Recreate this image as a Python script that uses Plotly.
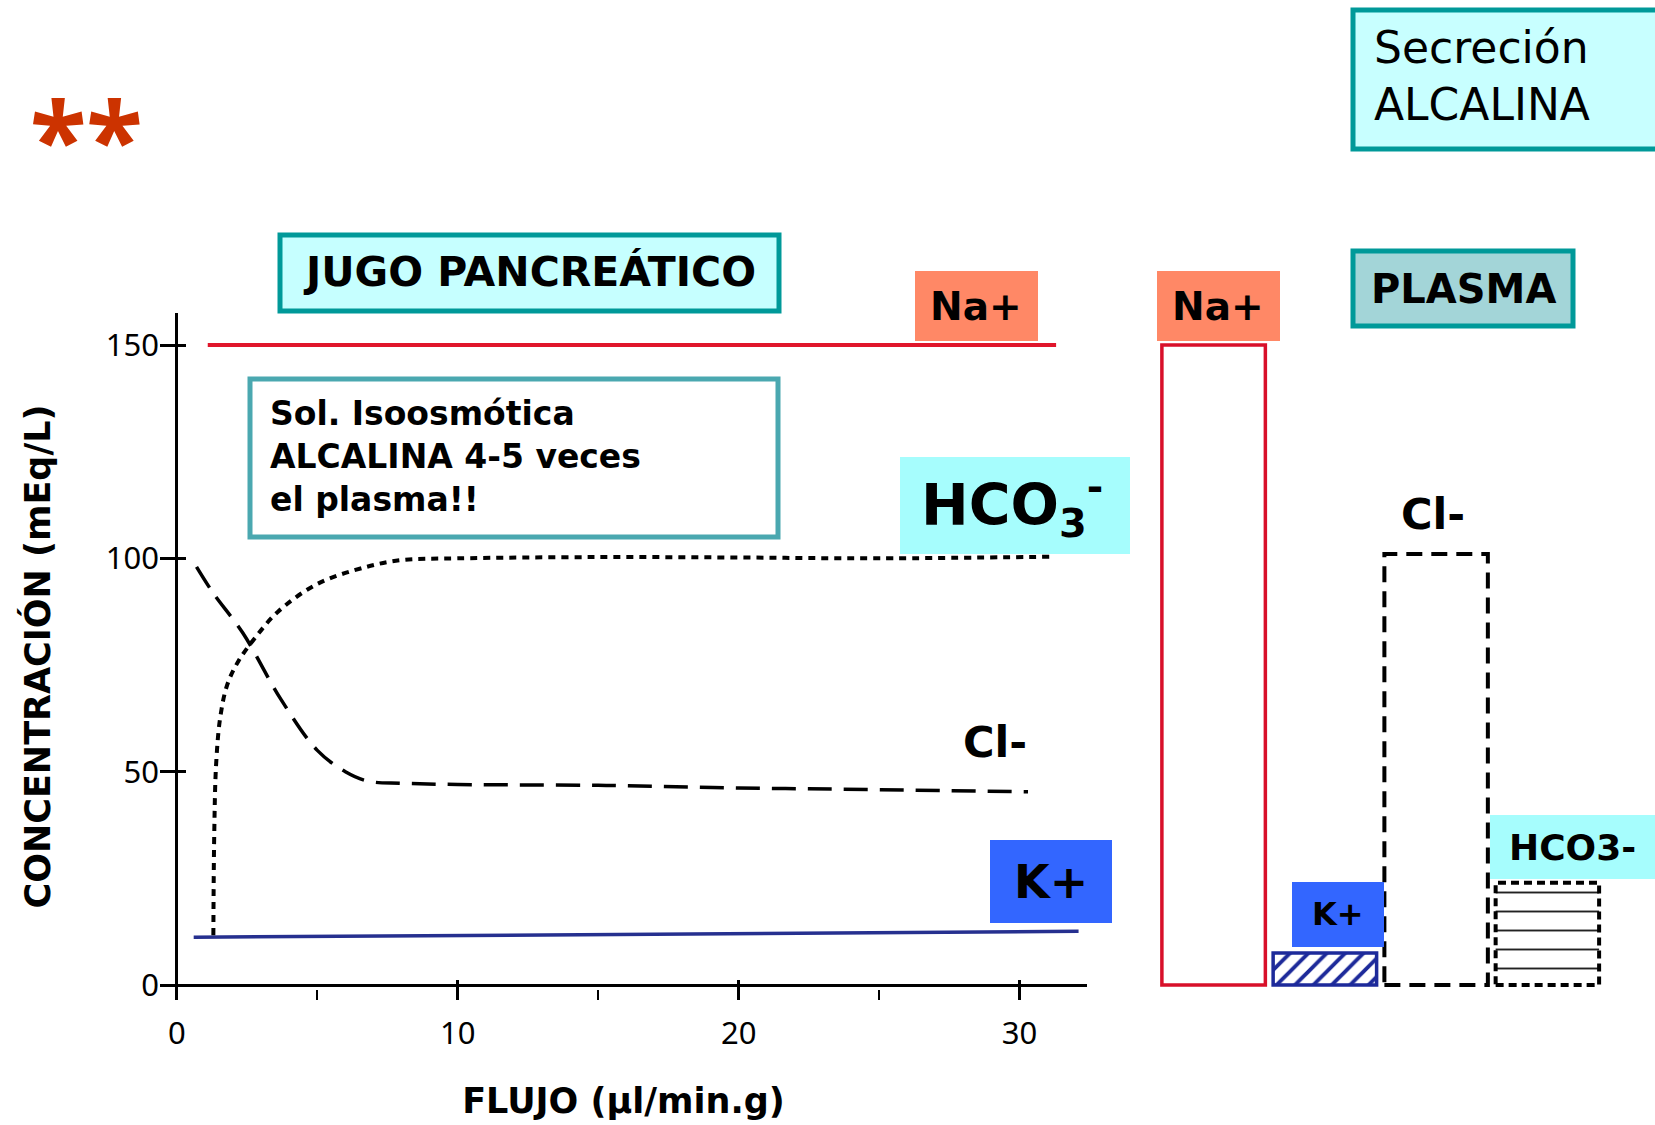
import plotly.graph_objects as go

W, H = 1655, 1125

# ---------------- data ----------------
# Pancreatic juice: concentration (mEq/L) vs flow (µl/min.g)
flow_na = [1.1, 31.3]
na_juice = [150, 150]

flow_k = [0.6, 32.1]
k_juice = [11.2, 12.6]

flow_hco3 = [1.3, 1.33, 1.4, 1.55, 1.8, 2.2, 2.8, 3.6, 5.0, 6.75, 8.0, 10, 15, 20, 25, 31.2]
hco3_juice = [11.7, 35, 52, 63, 70.5, 76, 81.5, 87.5, 94, 98, 99.6, 100, 100.3, 100.2, 100, 100.4]

flow_cl = [0.7, 1.3, 2.35, 3.7, 5.0, 6.0, 6.8, 8, 10, 15, 20, 25, 30.3]
cl_juice = [98, 91.8, 82.5, 67, 55, 50, 47.8, 47.3, 47, 46.8, 46.2, 45.8, 45.3]

# Plasma
plasma_ions = ["Na+", "K+", "Cl-", "HCO3-"]
plasma_values = [150, 7.5, 101, 24]

x_ticks = [0, 10, 20, 30]
x_minor = [5, 15, 25]
y_ticks = [0, 50, 100, 150]

# ---------------- helpers ----------------
def px(x):
    return x / W

def py(y):
    return 1 - y / H

FONT = "DejaVu Sans"
TICKFONT = "Noto Sans"
TEAL = "#009999"

fig = go.Figure()

# Juice curves
fig.add_trace(go.Scatter(x=flow_na, y=na_juice, mode="lines",
                         line=dict(color="#e0162b", width=4), name="Na+", hoverinfo="skip"))
fig.add_trace(go.Scatter(x=flow_k, y=k_juice, mode="lines",
                         line=dict(color="#26308f", width=3.5), name="K+", hoverinfo="skip"))
fig.add_trace(go.Scatter(x=flow_hco3, y=hco3_juice, mode="lines", line_shape="spline",
                         line=dict(color="black", width=4, dash="7px,6px"), name="HCO3-", hoverinfo="skip"))
fig.add_trace(go.Scatter(x=flow_cl, y=cl_juice, mode="lines", line_shape="spline",
                         line=dict(color="black", width=3.5, dash="24px,12px"), name="Cl-", hoverinfo="skip"))

# Plasma bars (one trace per ion, overlaid at their own category)
bar_gap = 0.07
half = (1 - bar_gap) / 2
bar_line = {"Na+": "#d8102a", "K+": "#1d2a9a", "Cl-": "rgba(0,0,0,0)", "HCO3-": "rgba(0,0,0,0)"}
bar_pattern = {
    "Na+": dict(shape=""),
    "K+": dict(shape="/", fgcolor="#1d2a9a", bgcolor="white", size=13, solidity=0.3, fgopacity=1),
    "Cl-": dict(shape=""),
    "HCO3-": dict(shape="-", fgcolor="#222222", bgcolor="white", size=19, solidity=0.1, fgopacity=1),
}
for ion, val in zip(plasma_ions, plasma_values):
    fig.add_trace(go.Bar(
        x=[ion], y=[val], xaxis="x2", yaxis="y2", name=ion,
        marker=dict(color="white", line=dict(color=bar_line[ion], width=3.5),
                    pattern=bar_pattern[ion]),
        hoverinfo="skip",
    ))

shapes = []
# dashed outlines for Cl- and HCO3- plasma bars
for i, (ion, val) in enumerate(zip(plasma_ions, plasma_values)):
    if ion in ("Cl-", "HCO3-"):
        shapes.append(dict(type="rect", xref="x2", yref="y2",
                           x0=i - half, x1=i + half, y0=0, y1=val,
                           line=dict(color="black", width=4,
                                     dash="16px,9px" if ion == "Cl-" else "8px,5px"),
                           layer="above"))

# ---------------- label boxes ----------------
def box(x0, y0, x1, y1, fill, border=None, bw=5):
    shapes.append(dict(type="rect", xref="paper", yref="paper",
                       x0=px(x0), x1=px(x1), y0=py(y1), y1=py(y0),
                       fillcolor=fill,
                       line=dict(color=border if border else fill, width=bw if border else 0),
                       layer="above"))

box(1353, 10, 1662, 149, "#c8ffff", TEAL, 5)       # Secreción ALCALINA
box(280, 235, 779, 311, "#c6ffff", TEAL, 5)        # JUGO PANCREÁTICO
box(250, 379, 778, 537, "white", "#4aa8b0", 5)     # Sol. Isoosmótica
box(915, 271, 1038, 341, "#ff8866")                # Na+ (juice)
box(900, 457, 1130, 554, "#a6fdfd")                # HCO3- (juice)
box(990, 840, 1112, 923, "#3366ff")                # K+ (juice)
box(1157, 271, 1280, 341, "#ff8866")               # Na+ (plasma)
box(1353, 251, 1573, 326, "#a3d5d8", TEAL, 5)      # PLASMA
box(1292, 882, 1384, 947, "#3366ff")               # K+ (plasma)
box(1490, 815, 1662, 879, "#a6fdfd")               # HCO3- (plasma)

annotations = []

def label(text, x, y, size, bold=True, color="black", xanchor="center", align="center", family=FONT):
    annotations.append(dict(
        text=f"<b>{text}</b>" if bold else text,
        x=px(x), y=py(y), xref="paper", yref="paper",
        xanchor=xanchor, yanchor="middle", align=align, showarrow=False,
        font=dict(family=family, size=size, color=color),
    ))

label("**", 86, 136, 104, color="#cc3300", family="Noto Sans")
label("Secreción<br>ALCALINA", 1372, 76, 44, bold=False, xanchor="left", align="left")
label("JUGO PANCREÁTICO", 529, 272, 41)
label("Sol. Isoosmótica<br>ALCALINA 4-5 veces<br>el plasma!!", 268, 456, 33, xanchor="left", align="left")
label("Na+", 976, 306, 39)
label("HCO<sub>3</sub><sup>-</sup>", 1012, 505, 57)
label("Cl-", 995, 742, 43)
label("K+", 1051, 882, 46)
label("Na+", 1218, 306, 39)
label("PLASMA", 1463, 289, 40)
label("Cl-", 1433, 514, 43)
label("K+", 1338, 914, 32)
label("HCO3-", 1572, 847, 36)

fig.update_layout(
    width=W, height=H,
    margin=dict(l=0, r=0, t=0, b=0),
    paper_bgcolor="white", plot_bgcolor="white",
    showlegend=False,
    barmode="overlay",
    bargap=bar_gap,
    font=dict(family=FONT, color="black"),
    xaxis=dict(
        domain=[px(160), px(1087)], range=[-0.6, 32.4],
        tickvals=x_ticks, ticks="inside", ticklen=20, tickwidth=2.5, tickcolor="black",
        minor=dict(tickvals=x_minor, ticks="inside", ticklen=10, tickwidth=1.5, tickcolor="black"),
        showgrid=False, showline=False,
        zeroline=True, zerolinecolor="black", zerolinewidth=2.5,
        tickfont=dict(size=31, family=TICKFONT, color="black"),
        ticklabelstandoff=12,
        title=dict(text="<b>FLUJO (µl/min.g)</b>", font=dict(size=35, family=FONT), standoff=36),
        automargin=False, fixedrange=True,
    ),
    yaxis=dict(
        domain=[py(1000), py(313)], range=[-3.5, 157.5],
        tickvals=y_ticks, ticks="inside", ticklen=26, tickwidth=2.5, tickcolor="black",
        showgrid=False, showline=False,
        zeroline=True, zerolinecolor="black", zerolinewidth=2.5,
        tickfont=dict(size=31, family=TICKFONT, color="black"),
        title=dict(text="<b>CONCENTRACIÓN (mEq/L)</b>", font=dict(size=35, family=FONT), standoff=44),
        automargin=False, fixedrange=True,
    ),
    xaxis2=dict(domain=[px(1158), px(1603)], anchor="y2", visible=False,
                showgrid=False, zeroline=False, fixedrange=True),
    yaxis2=dict(domain=[py(1000), py(313)], range=[-3.5, 157.5], anchor="x2", visible=False,
                showgrid=False, zeroline=False, fixedrange=True),
    shapes=shapes,
    annotations=annotations,
)

fig.write_html("out.html", config={"displayModeBar": False},
               post_script="document.body.style.margin='0';document.body.style.overflow='hidden';")
